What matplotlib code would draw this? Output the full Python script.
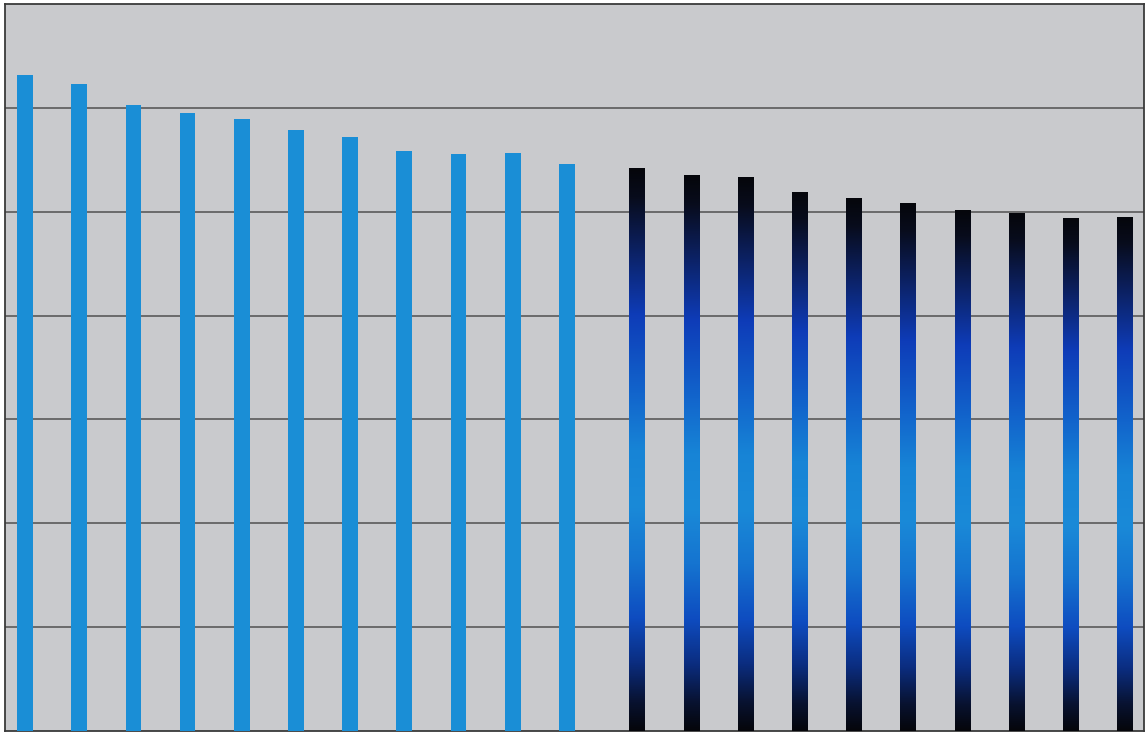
import matplotlib
matplotlib.use("Agg")
import matplotlib.pyplot as plt
import numpy as np
from matplotlib.colors import LinearSegmentedColormap
from matplotlib.patches import Rectangle

# Values (gridline = 1 unit)
solid_values = [6.32, 6.23, 6.03, 5.95, 5.89, 5.79, 5.72, 5.58, 5.56, 5.57, 5.46]
grad_values = [5.42, 5.35, 5.33, 5.19, 5.13, 5.08, 5.02, 4.99, 4.94, 4.95]
solid_pos = list(range(len(solid_values)))
grad_pos = [11.3 + i for i in range(len(grad_values))]

bar_w = 0.29
bg = "#c9cacd"
solid_color = "#1a8ed6"

# black -> navy -> blue -> light blue -> blue -> black (top to bottom)
grad_cmap = LinearSegmentedColormap.from_list("barfade", [
    (0.0, "#05060b"), (0.05, "#080c1c"), (0.15, "#0c2266"), (0.26, "#0e3cb8"),
    (0.4, "#1265cc"), (0.5, "#1784d6"), (0.6, "#1a8ad8"), (0.7, "#1574d0"),
    (0.8, "#0e4cc0"), (0.88, "#0b2d80"), (0.95, "#081230"), (1.0, "#05060b")])

fig = plt.figure(figsize=(11.46, 7.34), dpi=100)
ax = fig.add_axes([5 / 1146, 3 / 734, 1139 / 1146, 727 / 734])
ax.set_facecolor(bg)

ax.bar(solid_pos, solid_values, width=bar_w, color=solid_color, zorder=3)

grad = np.linspace(0, 1, 256).reshape(-1, 1)
for x, v in zip(grad_pos, grad_values):
    im = ax.imshow(grad, cmap=grad_cmap, aspect="auto", origin="upper",
                   extent=(x - bar_w / 2, x + bar_w / 2, 0, v), zorder=3)
    clip = Rectangle((x - bar_w / 2, 0), bar_w, v, transform=ax.transData)
    im.set_clip_path(clip)

ax.set_xlim(-0.37, 20.65)
ax.set_ylim(0, 7)
ax.set_yticks(range(1, 7))
ax.yaxis.grid(True, color="#505050", linewidth=1.1, zorder=1)
ax.set_axisbelow(True)
ax.tick_params(left=False, bottom=False, labelleft=False, labelbottom=False)
for s in ax.spines.values():
    s.set_color("#3a3a3a")
    s.set_linewidth(1.3)

fig.savefig("out.png", dpi=100, facecolor="white")
